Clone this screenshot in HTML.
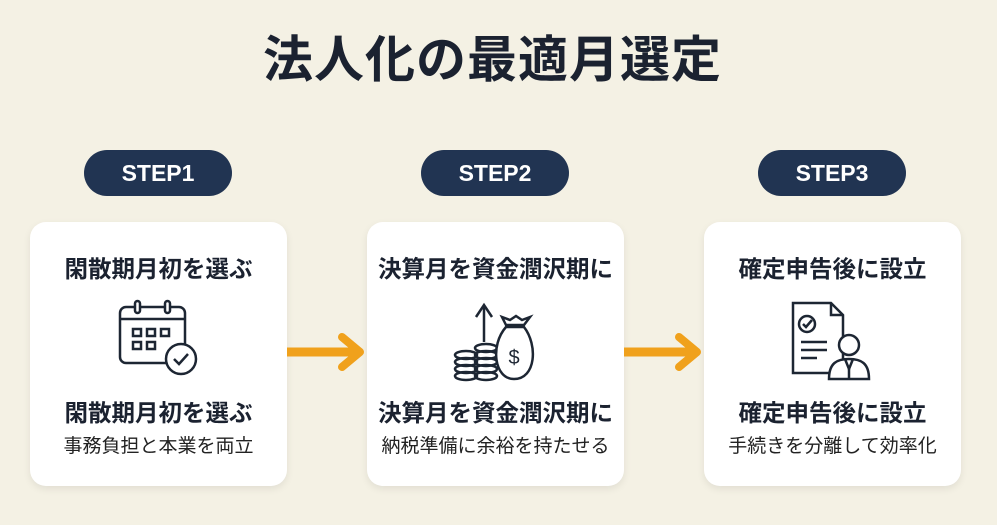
<!DOCTYPE html>
<html><head><meta charset="utf-8"><style>
body{margin:0;width:997px;height:525px;background:#f4f1e4;font-family:"Liberation Sans","Noto Sans CJK JP",sans-serif;position:relative;overflow:hidden;color:#1b2230}
.t{position:absolute;left:-6px;width:997px;top:27px;text-align:center;font-size:50px;font-weight:bold;letter-spacing:1px;color:#1b2230;line-height:66px}
.pill{position:absolute;top:150px;width:148px;height:46px;border-radius:23px;background:#213452;color:#fff;font-size:23px;font-weight:bold;text-align:center;line-height:46px}
.card{position:absolute;top:222px;width:257px;height:264px;border-radius:16px;background:#fff;box-shadow:0 3px 8px rgba(0,0,0,.08);text-align:center}
.h{position:absolute;left:0;width:100%;font-size:23.5px;font-weight:bold;line-height:30px}
.s{position:absolute;left:0;width:100%;top:212px;font-size:19px;color:#222;line-height:26px}
svg.i{position:absolute;left:83px;top:75px}
.ar{position:absolute;top:332px}
</style></head><body>
<div class="t">法人化の最適月選定</div>
<div class="pill" style="left:84px">STEP1</div>
<div class="pill" style="left:421px">STEP2</div>
<div class="pill" style="left:758px">STEP3</div>

<div class="card" style="left:30px">
<div class="h" style="top:32px">閑散期月初を選ぶ</div>
<svg class="i" width="90" height="90" viewBox="0 0 90 90" fill="none" stroke="#1d2633" stroke-width="2.5">
<rect x="7" y="10" width="65" height="56" rx="6"/><line x1="7" y1="22" x2="72" y2="22"/>
<rect x="22" y="4" width="5" height="12" rx="2.5" fill="#fff"/><rect x="52" y="4" width="5" height="12" rx="2.5" fill="#fff"/>
<rect x="20" y="32" width="8" height="7"/><rect x="34" y="32" width="8" height="7"/><rect x="48" y="32" width="8" height="7"/>
<rect x="20" y="45" width="8" height="7"/><rect x="34" y="45" width="8" height="7"/>
<circle cx="68" cy="62" r="15" fill="#fff"/><polyline points="61,62 66,67 75,57"/></svg>
<div class="h" style="top:176px">閑散期月初を選ぶ</div>
<div class="s">事務負担と本業を両立</div>
</div>

<div class="card" style="left:367px">
<div class="h" style="top:32px">決算月を資金潤沢期に</div>
<svg class="i" width="90" height="90" viewBox="0 0 90 90" fill="none" stroke="#1d2633" stroke-width="2.5">
<line x1="34" y1="45" x2="34" y2="10"/><polyline points="26,20 34,8 42,20"/>
<ellipse cx="16" cy="58" rx="11" ry="4"/><ellipse cx="16" cy="65" rx="11" ry="4"/><ellipse cx="16" cy="72" rx="11" ry="4"/><ellipse cx="16" cy="79" rx="11" ry="4"/>
<ellipse cx="36" cy="51" rx="11" ry="4"/><ellipse cx="36" cy="58" rx="11" ry="4"/><ellipse cx="36" cy="65" rx="11" ry="4"/><ellipse cx="36" cy="72" rx="11" ry="4"/><ellipse cx="36" cy="79" rx="11" ry="4"/>
<path d="M56 28 L52 20 L60 23 L66 19 L72 23 L80 20 L74 28 Z"/><path d="M56 30 C40 48 44 82 64 82 C86 82 88 48 74 30 Z" fill="#fff"/>
<text x="64" y="67" font-size="20" fill="#1d2633" stroke="none" text-anchor="middle" font-family="Liberation Sans">$</text></svg>
<div class="h" style="top:176px">決算月を資金潤沢期に</div>
<div class="s">納税準備に余裕を持たせる</div>
</div>

<div class="card" style="left:704px">
<div class="h" style="top:32px">確定申告後に設立</div>
<svg class="i" width="90" height="90" viewBox="0 0 90 90" fill="none" stroke="#1d2633" stroke-width="2.5">
<path d="M6 6 H44 L56 18 V76 H6 Z"/><polyline points="44,6 44,18 56,18"/>
<circle cx="20" cy="27" r="8"/><polyline points="16,27 19,30 25,23"/>
<line x1="14" y1="45" x2="40" y2="45"/><line x1="14" y1="53" x2="40" y2="53"/><line x1="14" y1="61" x2="30" y2="61"/>
<circle cx="62" cy="48" r="10" fill="#fff"/><path d="M42 82 C42 66 50 62 62 62 C74 62 82 66 82 82 Z" fill="#fff"/>
<polyline points="58,62 62,72 66,62"/><line x1="62" y1="72" x2="62" y2="82"/></svg>
<div class="h" style="top:176px">確定申告後に設立</div>
<div class="s">手続きを分離して効率化</div>
</div>

<svg class="ar" style="left:287px" width="80" height="40"><line x1="0" y1="20" x2="72" y2="20" stroke="#f0a11c" stroke-width="9"/><polyline points="55,5 73,20 55,35" fill="none" stroke="#f0a11c" stroke-width="8" stroke-linecap="round" stroke-linejoin="round"/></svg>
<svg class="ar" style="left:624px" width="80" height="40"><line x1="0" y1="20" x2="72" y2="20" stroke="#f0a11c" stroke-width="9"/><polyline points="55,5 73,20 55,35" fill="none" stroke="#f0a11c" stroke-width="8" stroke-linecap="round" stroke-linejoin="round"/></svg>
</body></html>
